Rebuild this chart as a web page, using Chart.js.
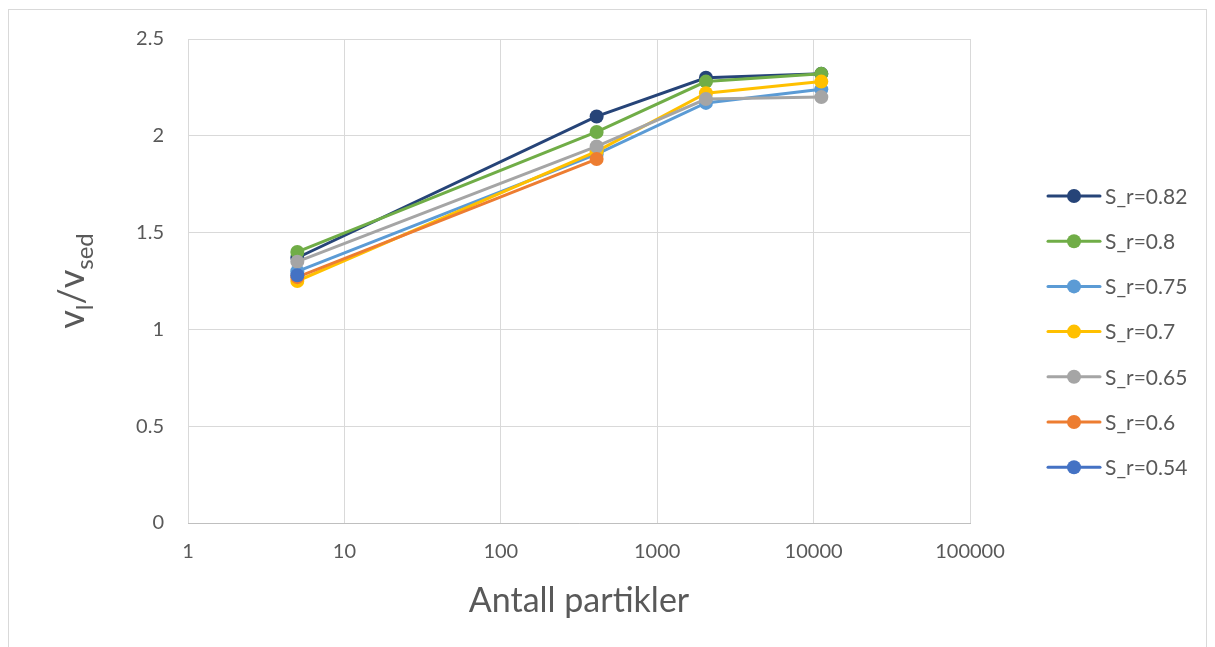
<!DOCTYPE html>
<html>
<head>
<meta charset="utf-8">
<script src="https://cdn.jsdelivr.net/npm/chart.js@4.4.1/dist/chart.umd.min.js"></script>
<style>
  html, body { margin: 0; padding: 0; background: #ffffff; }
  #wrap { width: 1215px; height: 647px; position: relative; }
</style>
</head>
<body>
<div id="wrap"><canvas id="chart" width="1215" height="647"></canvas></div>
<script>
// Number of particles (x, log scale)
const particleCounts = [5, 410, 2050, 11200];

// v_l / v_sed for each saturation level
const seriesLabels = ['S_r=0.82', 'S_r=0.8', 'S_r=0.75', 'S_r=0.7', 'S_r=0.65', 'S_r=0.6', 'S_r=0.54'];
const sr082 = [1.37, 2.10, 2.30, 2.32];
const sr080 = [1.40, 2.02, 2.28, 2.32];
const sr075 = [1.30, 1.905, 2.17, 2.24];
const sr070 = [1.25, 1.92, 2.22, 2.28];
const sr065 = [1.35, 1.945, 2.19, 2.20];
const sr060 = [1.27, 1.88];
const sr054 = [1.28];
const seriesValues = [sr082, sr080, sr075, sr070, sr065, sr060, sr054];
const seriesColors = ['#264478', '#70AD47', '#5B9BD5', '#FFC000', '#A5A5A5', '#ED7D31', '#4472C4'];

const xTickValues = [1, 10, 100, 1000, 10000, 100000];
const yTickValues = [0, 0.5, 1, 1.5, 2, 2.5];

const FONT = 'Lato, "Open Sans", sans-serif';
const TEXT = '#595959';

const datasets = seriesValues.map((vals, i) => ({
  label: seriesLabels[i],
  data: vals.map((v, j) => ({ x: particleCounts[j], y: v })),
  borderColor: seriesColors[i],
  backgroundColor: seriesColors[i],
  pointBackgroundColor: seriesColors[i],
  pointBorderColor: seriesColors[i],
  borderWidth: 3,
  pointRadius: 7,
  pointBorderWidth: 0,
  tension: 0,
  // later series are painted over earlier ones
  order: seriesValues.length - i
}));

// Frame, axis titles and legend
const decorations = {
  id: 'decorations',
  beforeDraw(chart) {
    const ctx = chart.ctx;
    ctx.save();
    ctx.fillStyle = '#ffffff';
    ctx.fillRect(0, 0, chart.width, chart.height);
    ctx.strokeStyle = '#d9d9d9';
    ctx.lineWidth = 1;
    ctx.strokeRect(8.5, 9.5, 1198, 700);
    ctx.restore();
  },
  afterDraw(chart) {
    const ctx = chart.ctx;
    const area = chart.chartArea;
    ctx.save();
    ctx.fillStyle = TEXT;

    // x title
    ctx.font = '34px ' + FONT;
    ctx.textAlign = 'center';
    ctx.textBaseline = 'middle';
    ctx.fillText('Antall partikler', (area.left + area.right) / 2, 601);

    // y title with subscripts: v_l / v_sed
    const parts = [
      { t: 'v', size: 36, dy: 0 },
      { t: 'l', size: 24, dy: 9 },
      { t: '/', size: 36, dy: 0 },
      { t: 'v', size: 36, dy: 0 },
      { t: 'sed', size: 24, dy: 9 }
    ];
    let total = 0;
    parts.forEach(p => { ctx.font = p.size + 'px ' + FONT; p.w = ctx.measureText(p.t).width; total += p.w; });
    ctx.translate(72, (area.top + area.bottom) / 2);
    ctx.rotate(-Math.PI / 2);
    ctx.textAlign = 'left';
    ctx.textBaseline = 'alphabetic';
    let x = -total / 2;
    parts.forEach(p => {
      ctx.font = p.size + 'px ' + FONT;
      ctx.fillText(p.t, x, 12 + p.dy);
      x += p.w;
    });
    ctx.setTransform(1, 0, 0, 1, 0, 0);

    // legend
    const lx = 1048, ly = 196, step = 45.2;
    chart.data.datasets.forEach((ds, i) => {
      const y = ly + i * step;
      ctx.strokeStyle = ds.borderColor;
      ctx.lineWidth = 3;
      ctx.lineCap = 'round';
      ctx.beginPath();
      ctx.moveTo(lx, y);
      ctx.lineTo(lx + 52, y);
      ctx.stroke();
      ctx.fillStyle = ds.borderColor;
      ctx.beginPath();
      ctx.arc(lx + 26, y, 7, 0, Math.PI * 2);
      ctx.fill();
      ctx.fillStyle = TEXT;
      ctx.font = '21px ' + FONT;
      ctx.textAlign = 'left';
      ctx.textBaseline = 'middle';
      ctx.fillText(ds.label, lx + 57, y + 1);
    });
    ctx.restore();
  }
};

new Chart(document.getElementById('chart'), {
  type: 'line',
  data: { datasets },
  options: {
    responsive: false,
    animation: false,
    layout: { padding: { left: 0, right: 245, top: 39, bottom: 0 } },
    plugins: { legend: { display: false }, tooltip: { enabled: false } },
    scales: {
      x: {
        type: 'logarithmic',
        min: 1,
        max: 100000,
        afterBuildTicks(scale) { scale.ticks = xTickValues.map(v => ({ value: v })); },
        afterFit(scale) { scale.height = 124; },
        grid: { color: '#d9d9d9', lineWidth: 1, drawTicks: false },
        border: { color: '#bfbfbf', width: 1 },
        ticks: {
          color: TEXT,
          font: { family: FONT, size: 20 },
          padding: 17,
          maxRotation: 0,
          autoSkip: false,
          callback: v => String(v)
        }
      },
      y: {
        type: 'linear',
        min: 0,
        max: 2.5,
        afterBuildTicks(scale) { scale.ticks = yTickValues.map(v => ({ value: v })); },
        afterFit(scale) { scale.width = 188; },
        grid: { color: '#d9d9d9', lineWidth: 1, drawTicks: false },
        border: { display: false },
        ticks: {
          color: TEXT,
          font: { family: FONT, size: 20 },
          padding: 24,
          callback: v => String(v)
        }
      }
    }
  },
  plugins: [decorations]
});
</script>
</body>
</html>
